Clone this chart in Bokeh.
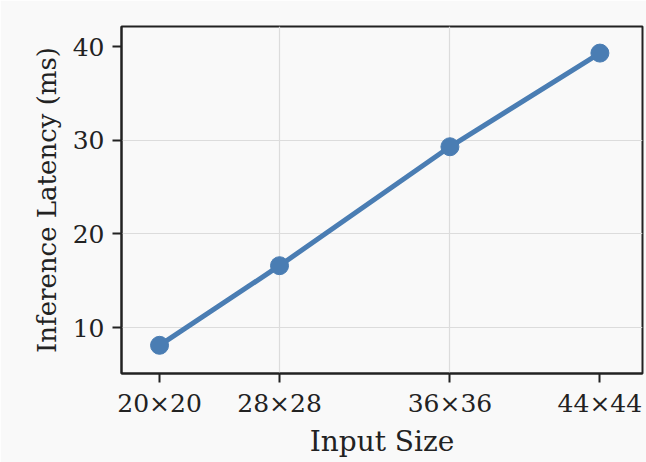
from bokeh.plotting import figure
from bokeh.models import FixedTicker, Range1d
from bokeh.embed import file_html
from bokeh.resources import INLINE

# Data
size_labels = ["20×20", "28×28", "36×36", "44×44"]
x_pos = [0.0, 1.0, 2.42, 3.67]          # horizontal placement
latency_ms = [8.1, 16.6, 29.3, 39.3]
y_ticks = [10, 20, 30, 40]
y_grid = [10, 20, 30]
x_grid = [1.0, 2.42]

FONT = "DejaVu Serif"
BG = "#f9f9f9"
LINE = "#4a7db3"
INK = "#222222"

p = figure(width=646, height=462, output_backend="svg", toolbar_location=None,
           x_range=Range1d(-0.317, 4.025), y_range=Range1d(5.09, 42.14),
           background_fill_color=BG, border_fill_color=BG,
           min_border_left=121, min_border_right=4, min_border_top=26, min_border_bottom=89)

p.line(x_pos, latency_ms, line_color=LINE, line_width=5)
p.scatter(x_pos, latency_ms, size=18, fill_color=LINE, line_color=LINE)

p.outline_line_color = INK
p.outline_line_width = 2
p.outline_line_alpha = 1

for ax in (p.xaxis[0], p.yaxis[0]):
    ax.axis_line_color = INK
    ax.axis_line_width = 2
    ax.major_tick_line_color = INK
    ax.major_tick_line_width = 2
    ax.major_tick_out = 9
    ax.major_tick_in = 0
    ax.minor_tick_line_color = None
    ax.major_label_text_font = FONT
    ax.major_label_text_font_size = "25px"
    ax.major_label_text_color = INK
    ax.axis_label_text_font = FONT
    ax.axis_label_text_font_size = "26px"
    ax.axis_label_text_font_style = "normal"
    ax.axis_label_text_color = INK

p.xaxis.ticker = FixedTicker(ticks=x_pos)
p.xaxis.major_label_overrides = {x: s for x, s in zip(x_pos, size_labels)}
p.xaxis.axis_label = "Input Size"
p.xaxis.axis_label_text_font_size = "28px"
p.xaxis.major_label_standoff = 6
p.xaxis.axis_label_standoff = 4

p.yaxis.ticker = FixedTicker(ticks=y_ticks)
p.yaxis.axis_label = "Inference Latency (ms)"
p.yaxis.major_label_standoff = 8
p.yaxis.axis_label_standoff = 8

p.xgrid.ticker = FixedTicker(ticks=x_grid)
p.ygrid.ticker = FixedTicker(ticks=y_grid)
p.grid.grid_line_color = "#dcdcdc"
p.grid.grid_line_width = 1.2

open("out.html", "w").write(file_html(p, INLINE))
